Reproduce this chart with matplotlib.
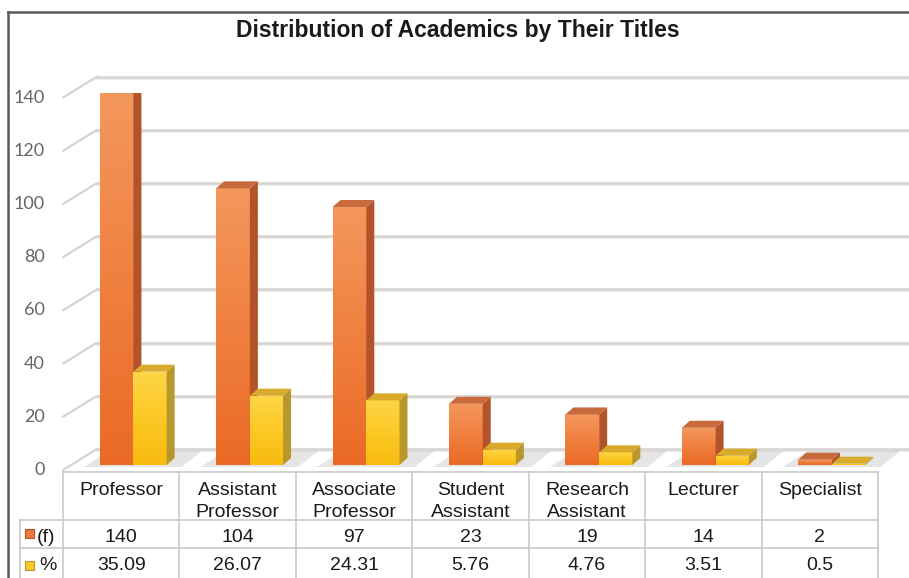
import numpy as np
import matplotlib
matplotlib.use("Agg")
import matplotlib.pyplot as plt
from matplotlib.patches import Rectangle, Polygon
from matplotlib.colors import LinearSegmentedColormap

# ---- data ----
categories = ["Professor", "Assistant\nProfessor", "Associate\nProfessor",
              "Student\nAssistant", "Research\nAssistant", "Lecturer", "Specialist"]
freq = [140, 104, 97, 23, 19, 14, 2]
pct = [35.09, 26.07, 24.31, 5.76, 4.76, 3.51, 0.5]
freq_labels = ["140", "104", "97", "23", "19", "14", "2"]
pct_labels = ["35.09", "26.07", "24.31", "5.76", "4.76", "3.51", "0.5"]
series_names = ["(f)", "%"]
yticks = [0, 20, 40, 60, 80, 100, 120, 140]
title = "Distribution of Academics by Their Titles"

W, H = 909, 578
fig = plt.figure(figsize=(W / 100, H / 100), dpi=100)
fig.patch.set_facecolor("white")

# pixel overlay axes (for frame / table)
bg = fig.add_axes([0, 0, 1, 1])
bg.set_xlim(0, W)
bg.set_ylim(H, 0)
bg.axis("off")

# main data axes: x in category units, y in value units
x_left, x_right = 63, 878
y_zero, y_top = 465, 92.6
ax = fig.add_axes([x_left / W, (H - y_zero) / H, (x_right - x_left) / W, (y_zero - y_top) / H])
ax.set_xlim(0, 7)
ax.set_ylim(0, 140)
ax.axis("off")
ax.patch.set_alpha(0)

px_x = 7 / (x_right - x_left)      # data per pixel in x
px_y = 140 / (y_zero - y_top)      # data per pixel in y

# frame
bg.plot([8, 8], [12, H], color="#5a5a5a", lw=1.8, zorder=1)
bg.plot([8, W], [12, 12], color="#5a5a5a", lw=1.8, zorder=1)

# title
bg.text(458, 37, title, ha="center", va="baseline", fontsize=16.5, fontweight="bold",
        family="Liberation Sans", color="#1a1a1a")

# walls / gridlines
wall_back_dx = 34
for v in yticks:
    y_front = v - 5 * px_y
    y_back = v + 16 * px_y
    x1 = wall_back_dx * px_x
    ax.plot([0, x1], [y_front, y_back], color="#d6d3d0", lw=1.6, zorder=1, clip_on=False,
            solid_capstyle="round")
    ax.plot([x1, 7.3], [y_back, y_back], color="#d6d3d0", lw=1.8, zorder=1, clip_on=False)
    ax.plot([x1, 7.3], [y_back - 2 * px_y, y_back - 2 * px_y], color="#efedeb", lw=1.5,
            zorder=0.9, clip_on=False)
    ax.text(-18 * px_x, v - 5 * px_y, str(v), ha="right", va="center", fontsize=13,
            family="Lato", color="#666666", clip_on=False)

# floor shadows per group
for i in range(len(categories)):
    gx0 = i + 0.18
    gx1 = i + 1.02
    poly = Polygon([(gx0, -2 * px_y), (gx1, -2 * px_y), (gx1 + 20 * px_x, 14 * px_y),
                    (gx0 + 25 * px_x, 14 * px_y)],
                   closed=True, facecolor="#9a9a9a", alpha=0.25, edgecolor="none",
                   zorder=1.5, clip_on=False)
    ax.add_patch(poly)

front_orange = LinearSegmentedColormap.from_list("o", ["#ea6a25", "#f08040", "#f4975c"])
front_yellow = LinearSegmentedColormap.from_list("y", ["#f8bb10", "#fcc825", "#fdd546"])

dx = 8 * px_x
dy = 7 * px_y


def draw_bar(x0, w, v, cmap, side_c, top_c, z):
    rect = Rectangle((x0, 0), w, v, facecolor="none", edgecolor="none", zorder=z)
    ax.add_patch(rect)
    grad = np.linspace(0, 1, 64).reshape(-1, 1)
    im = ax.imshow(grad, cmap=cmap, origin="lower", aspect="auto",
                   extent=[x0, x0 + w, 0, max(v, 1e-3)], zorder=z, interpolation="bilinear")
    im.set_clip_path(rect)
    side = Polygon([(x0 + w, 0), (x0 + w + dx, dy), (x0 + w + dx, v + dy), (x0 + w, v)],
                   closed=True, facecolor=side_c, edgecolor="none", zorder=z)
    top = Polygon([(x0, v), (x0 + w, v), (x0 + w + dx, v + dy), (x0 + dx, v + dy)],
                  closed=True, facecolor=top_c, edgecolor="none", zorder=z + 0.01)
    ax.add_patch(side)
    ax.add_patch(top)


for i in range(len(categories)):
    draw_bar(i + 0.315, 0.29, freq[i], front_orange, "#b3532a", "#c96a3c", 3 + i * 0.1)
    draw_bar(i + 0.605, 0.285, pct[i], front_yellow, "#b8982c", "#d9aa2c", 3.05 + i * 0.1)
ax.set_xlim(0, 7)
ax.set_ylim(0, 140)

# ---- table ----
col_edges = np.linspace(63, 878, len(categories) + 1)
line_c = "#c9c9c9"
bg.plot([63, 878], [472, 472], color=line_c, lw=1.2)
bg.plot([20, 878], [520, 520], color=line_c, lw=1.2)
bg.plot([20, 878], [548, 548], color=line_c, lw=1.2)
bg.plot([20, 20], [520, H], color=line_c, lw=1.2)
for xe in col_edges:
    bg.plot([xe, xe], [472, H], color=line_c, lw=1.2)

tfont = dict(family="Liberation Sans", fontsize=14, color="#1a1a1a")
for i, cat in enumerate(categories):
    cx = (col_edges[i] + col_edges[i + 1]) / 2
    for j, line in enumerate(cat.split("\n")):
        bg.text(cx, 495 + j * 22, line, ha="center", va="baseline", **tfont)
    bg.text(cx, 542.5, freq_labels[i], ha="center", va="baseline", **tfont)
    bg.text(cx, 570, pct_labels[i], ha="center", va="baseline", **tfont)

# legend keys in table
bg.add_patch(Rectangle((25, 529), 9, 9, facecolor="#ec7a3a", edgecolor="#b3532a", lw=0.8))
bg.add_patch(Rectangle((25, 561), 9, 9, facecolor="#fcc92a", edgecolor="#b8982c", lw=0.8))
bg.text(37, 542.5, series_names[0], ha="left", va="baseline", **tfont)
bg.text(39, 570, series_names[1], ha="left", va="baseline", **tfont)

fig.savefig("out.png", dpi=100, facecolor="white")
